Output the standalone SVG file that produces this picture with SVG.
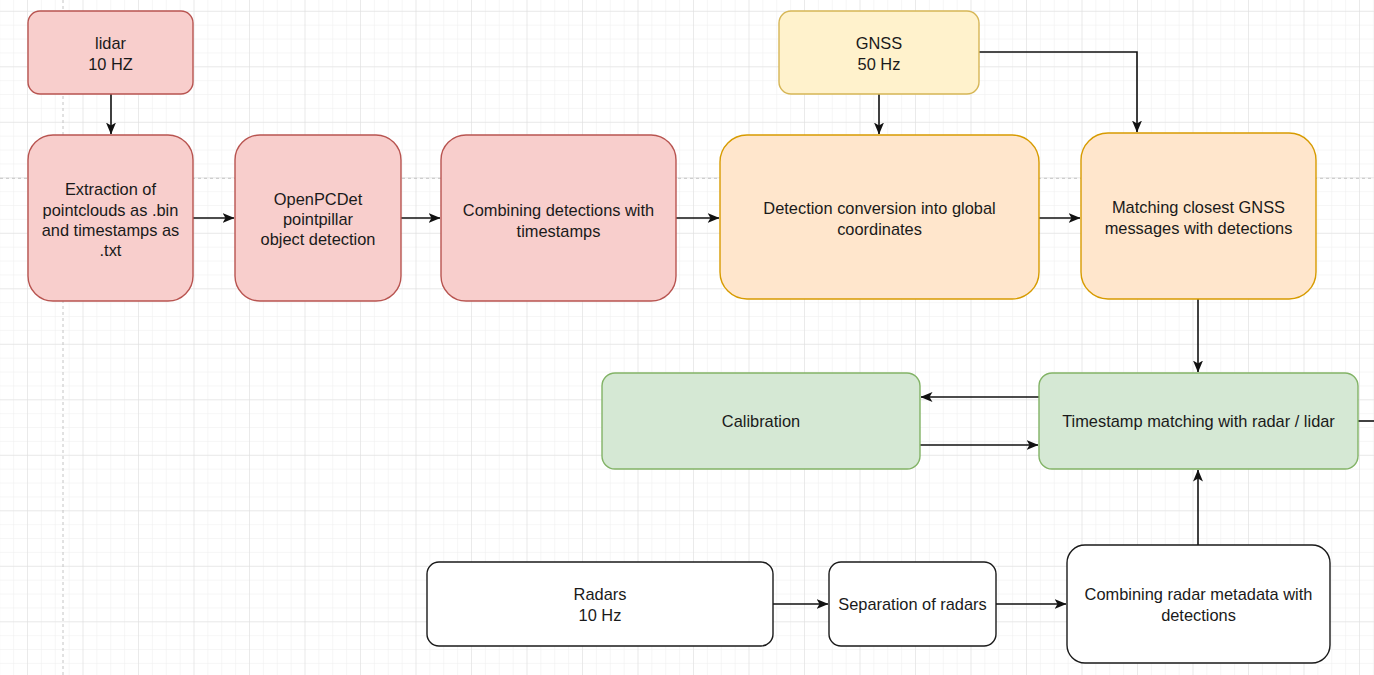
<svg xmlns="http://www.w3.org/2000/svg" width="1374" height="675" viewBox="0 0 1374 675">
<style>
text{font-family:"Liberation Sans",Arial,sans-serif;font-size:16.4px;fill:#1a1a1a;text-anchor:middle}
.red{fill:#f8cecc;stroke:#b85450;stroke-width:1.4}
.yel{fill:#fff2cc;stroke:#d6b656;stroke-width:1.4}
.ora{fill:#ffe6cc;stroke:#d79b00;stroke-width:1.4}
.grn{fill:#d5e8d4;stroke:#82b366;stroke-width:1.4}
.wht{fill:#ffffff;stroke:#1a1a1a;stroke-width:1.4}
.edge{fill:none;stroke:#111;stroke-width:1.6}
</style>
<defs>
<pattern id="minor" patternUnits="userSpaceOnUse" x="27" y="10.8" width="13.875" height="13.875">
<path d="M0 0H13.875M0 0V13.875" fill="none" stroke="#eeeeee" stroke-width="1"/>
</pattern>
<pattern id="major" patternUnits="userSpaceOnUse" x="27" y="10.8" width="55.5" height="55.5">
<path d="M0 0H55.5M0 0V55.5" fill="none" stroke="#dedede" stroke-width="1"/>
</pattern>
<marker id="arr" viewBox="0 0 12 12" refX="11.5" refY="6" markerWidth="12" markerHeight="12" markerUnits="userSpaceOnUse" orient="auto">
<path d="M0 1L12 6L0 11L3 6Z" fill="#111"/>
</marker>
</defs>
<rect width="1374" height="675" fill="#ffffff"/>
<rect width="1374" height="675" fill="url(#minor)"/>
<rect width="1374" height="675" fill="url(#major)"/>
<path d="M63 0V675M0 178.3H1374" stroke="#c4c4c4" stroke-width="1" stroke-dasharray="3 3" fill="none"/>

<g id="connectors">
<path class="edge" d="M111 94V134" marker-end="url(#arr)"/>
<path class="edge" d="M193 218H234" marker-end="url(#arr)"/>
<path class="edge" d="M401 218H440" marker-end="url(#arr)"/>
<path class="edge" d="M676 218H719" marker-end="url(#arr)"/>
<path class="edge" d="M1039 218H1080" marker-end="url(#arr)"/>
<path class="edge" d="M879 94V134" marker-end="url(#arr)"/>
<path class="edge" d="M979 52H1137V132" marker-end="url(#arr)"/>
<path class="edge" d="M1198 299V372" marker-end="url(#arr)"/>
<path class="edge" d="M1039 397H921" marker-end="url(#arr)"/>
<path class="edge" d="M920 445H1038" marker-end="url(#arr)"/>
<path class="edge" d="M773 604H828" marker-end="url(#arr)"/>
<path class="edge" d="M996 604H1066" marker-end="url(#arr)"/>
<path class="edge" d="M1198 545V470" marker-end="url(#arr)"/>
<path class="edge" d="M1358 421H1374"/>
</g>

<g id="lidar">
<rect class="red" x="28" y="11" width="165" height="83" rx="12"/>
<text x="110.5" y="49">lidar</text>
<text x="110.5" y="70">10 HZ</text>
</g>
<g id="extraction">
<rect class="red" x="28" y="135" width="165" height="166" rx="25"/>
<text x="110.5" y="195">Extraction of</text>
<text x="110.5" y="216">pointclouds as .bin</text>
<text x="110.5" y="236">and timestamps as</text>
<text x="110.5" y="256">.txt</text>
</g>
<g id="openpcdet">
<rect class="red" x="235" y="135" width="166" height="166" rx="25"/>
<text x="318" y="205">OpenPCDet</text>
<text x="318" y="225">pointpillar</text>
<text x="318" y="245">object detection</text>
</g>
<g id="combining">
<rect class="red" x="441" y="135" width="235" height="166" rx="25"/>
<text x="558.5" y="216">Combining detections with</text>
<text x="558.5" y="237">timestamps</text>
</g>
<g id="gnss">
<rect class="yel" x="779" y="11" width="200" height="83" rx="12"/>
<text x="879" y="49">GNSS</text>
<text x="879" y="70">50 Hz</text>
</g>
<g id="conversion">
<rect class="ora" x="720" y="135" width="319" height="164" rx="27"/>
<text x="879.5" y="214">Detection conversion into global</text>
<text x="879.5" y="235">coordinates</text>
</g>
<g id="matching">
<rect class="ora" x="1081" y="133" width="235" height="166" rx="27"/>
<text x="1198.5" y="213">Matching closest GNSS</text>
<text x="1198.5" y="234">messages with detections</text>
</g>
<g id="calibration">
<rect class="grn" x="602" y="373" width="318" height="96" rx="13"/>
<text x="761" y="427">Calibration</text>
</g>
<g id="timestamp">
<rect class="grn" x="1039" y="373" width="319" height="96" rx="13"/>
<text x="1198.5" y="427">Timestamp matching with radar / lidar</text>
</g>
<g id="radars">
<rect class="wht" x="427" y="562" width="346" height="84" rx="12"/>
<text x="600" y="600">Radars</text>
<text x="600" y="621">10 Hz</text>
</g>
<g id="separation">
<rect class="wht" x="829" y="562" width="167" height="84" rx="12"/>
<text x="912.5" y="610">Separation of radars</text>
</g>
<g id="radarmeta">
<rect class="wht" x="1067" y="545" width="263" height="118" rx="18"/>
<text x="1198.5" y="600">Combining radar metadata with</text>
<text x="1198.5" y="621">detections</text>
</g>
</svg>
